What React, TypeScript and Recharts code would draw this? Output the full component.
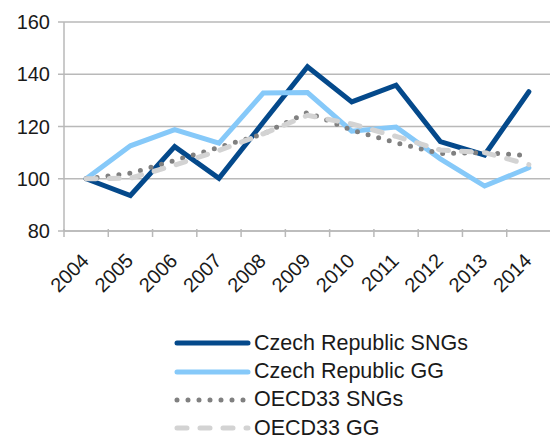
import React from 'react';
import { LineChart, Line, XAxis, YAxis, CartesianGrid, Legend } from 'recharts';

const years = ['2004', '2005', '2006', '2007', '2008', '2009', '2010', '2011', '2012', '2013', '2014'];
const czechSNGs = [100, 93.6, 112.3, 100.2, 121.6, 142.9, 129.4, 135.8, 114.2, 109.1, 133.3];
const czechGG = [100, 112.6, 118.8, 113.6, 132.8, 133, 118.2, 119.8, 107.6, 97.2, 104.2];
const oecdSNGs = [100, 102.1, 107, 112, 117.2, 125.4, 118.6, 113.8, 109.6, 110, 108.9];
const oecdGG = [100, 100.2, 105.2, 110.8, 117.2, 124.3, 121, 116.2, 111, 110, 105.4];
const yTicks = [80, 100, 120, 140, 160];

const seriesNames = ['Czech Republic SNGs', 'Czech Republic GG', 'OECD33 SNGs', 'OECD33 GG'];
const seriesKeys = ['czechSNGs', 'czechGG', 'oecdSNGs', 'oecdGG'];
const seriesValues = [czechSNGs, czechGG, oecdSNGs, oecdGG];
const seriesColors = ['#04498b', '#86c9f9', '#808080', '#d3d3d3'];
const seriesDash = ['', '', '0 11', '10 13'];

const data = years.map((y, i) => {
  const row: Record<string, string | number> = { year: y };
  seriesKeys.forEach((k, j) => {
    row[k] = seriesValues[j][i];
  });
  return row;
});

const FONT = '"Liberation Sans", Arial, sans-serif';
const GRID = '#b9b9b9';

const XTick = (props: any) => {
  const { x, y, payload, width } = props;
  const half = payload && typeof payload.offset === 'number' && payload.offset > 0 ? payload.offset : width / (2 * years.length);
  const axisY = y - 8;
  const tx = x + 4;
  const ty = axisY + 31;
  return (
    <g>
      <line x1={x - half} y1={axisY - 2} x2={x - half} y2={axisY + 6} stroke={GRID} strokeWidth={1.5} />
      <text
        x={tx}
        y={ty}
        textAnchor="end"
        transform={`rotate(-45 ${tx} ${ty})`}
        fontFamily={FONT}
        fontSize={20}
        fill="#1a1a1a"
      >
        {payload.value}
      </text>
    </g>
  );
};

const LegendContent = () => (
  <div style={{ fontFamily: FONT, fontSize: 21.5, color: '#1a1a1a' }}>
    {seriesNames.map((name, i) => (
      <div key={name} style={{ display: 'flex', alignItems: 'center', height: 28.4 }}>
        <svg width={80} height={10} style={{ display: 'block' }}>
          <line
            x1={3}
            y1={5}
            x2={74}
            y2={5}
            stroke={seriesColors[i]}
            strokeWidth={5}
            strokeLinecap="round"
            strokeDasharray={seriesDash[i] || undefined}
          />
        </svg>
        <span style={{ whiteSpace: 'nowrap' }}>{name}</span>
      </div>
    ))}
  </div>
);

export default function App() {
  return (
    <div style={{ position: 'absolute', left: 0, top: 0, width: 560, height: 439, overflow: 'hidden' }}>
      <LineChart width={560} height={439} data={data} margin={{ top: 22, right: 9, left: 0, bottom: 178 }}>
        <CartesianGrid vertical={false} stroke={GRID} strokeWidth={1.5} />
        <XAxis
          dataKey="year"
          scale="band"
          height={30}
          axisLine={{ stroke: GRID, strokeWidth: 1.5 }}
          tickLine={false}
          tick={<XTick />}
          interval={0}
          tickSize={0}
          tickMargin={8}
        />
        <YAxis
          width={64}
          domain={[80, 160]}
          ticks={yTicks}
          axisLine={{ stroke: GRID, strokeWidth: 1.5 }}
          tickLine={{ stroke: GRID, strokeWidth: 1.5 }}
          tickSize={6}
          tickMargin={8}
          tick={{ fontFamily: FONT, fontSize: 20, fill: '#1a1a1a' }}
        />
        <Legend
          layout="horizontal"
          verticalAlign="middle"
          align="center"
          content={<LegendContent />}
          wrapperStyle={{ position: 'absolute', top: 329, left: 174, width: 360 }}
        />
        {seriesKeys.map((k, i) => (
          <Line
            key={k}
            type="linear"
            dataKey={k}
            name={seriesNames[i]}
            stroke={seriesColors[i]}
            strokeWidth={5}
            strokeDasharray={seriesDash[i] || undefined}
            strokeLinecap="round"
            strokeLinejoin="miter"
            dot={false}
            activeDot={false}
            isAnimationActive={false}
          />
        ))}
      </LineChart>
    </div>
  );
}
